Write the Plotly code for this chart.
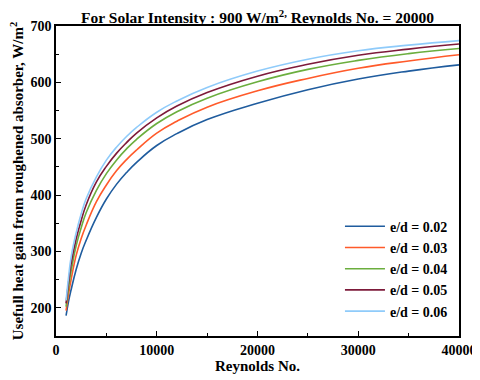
import plotly.graph_objects as go

reynolds = [1000, 1250, 1500, 2000, 2500, 3000, 4000, 5000, 6000, 7000, 8000,
            10000, 12000, 15000, 20000, 25000, 30000, 35000, 40000]

heat_002 = [186, 212, 232, 268, 297, 320, 360, 393, 419, 440, 458,
            488, 509, 534, 563, 587, 606, 620, 631]
heat_003 = [195, 225, 250, 293, 323, 347, 388, 418, 443, 463, 480,
            510, 531, 556, 585, 607, 625, 638, 649]
heat_004 = [202, 236, 265, 310, 342, 369, 408, 438, 462, 482, 499,
            527, 548, 572, 601, 623, 639, 651, 660]
heat_005 = [208, 246, 278, 322, 355, 383, 423, 451, 474, 493, 510,
            537, 558, 582, 611, 632, 648, 659, 668]
heat_006 = [213, 255, 290, 333, 367, 394, 432, 462, 485, 504, 520,
            547, 567, 591, 620, 641, 656, 666, 674]

series = [
    ("e/d = 0.02", heat_002, "#1F5C9E"),
    ("e/d = 0.03", heat_003, "#FF5A2A"),
    ("e/d = 0.04", heat_004, "#6BAE3E"),
    ("e/d = 0.05", heat_005, "#7D1A3A"),
    ("e/d = 0.06", heat_006, "#8FCBFA"),
]

font_family = "Liberation Serif"

fig = go.Figure()
for name, values, colour in series:
    fig.add_trace(
        go.Scatter(
            x=reynolds,
            y=values,
            name=name,
            mode="lines",
            line=dict(color=colour, width=1.6, shape="spline", smoothing=1.3),
        )
    )

axis_style = dict(
    showline=True,
    linecolor="black",
    linewidth=1.5,
    mirror=True,
    ticks="inside",
    ticklen=5,
    tickwidth=1.2,
    tickcolor="black",
    showgrid=False,
    zeroline=False,
    automargin=False,
    tickfont=dict(family=font_family, size=14, color="black", weight="bold"),
)

fig.update_xaxes(
    range=[0, 40000],
    dtick=10000,
    tickformat="d",
    minor=dict(dtick=5000, ticks="inside", ticklen=3, tickcolor="black"),
    title=dict(text="<b>Reynolds No.</b>", font=dict(family=font_family, size=15, color="black"), standoff=4),
    **axis_style,
)
fig.update_yaxes(
    range=[150, 700],
    dtick=100,
    tick0=0,
    minor=dict(dtick=50, ticks="inside", ticklen=3, tickcolor="black"),
    title=dict(
        text="<b>Usefull heat gain from roughened absorber, W/m<sup>2</sup></b>",
        font=dict(family=font_family, size=15, color="black"),
        standoff=10,
    ),
    **axis_style,
)

# the page body adds an 8px margin, so the figure is drawn 8px smaller
fig.update_layout(
    width=472,
    height=372,
    margin=dict(l=48, r=21, t=18, b=44),
    paper_bgcolor="white",
    plot_bgcolor="white",
    title=dict(
        text="<b>For Solar Intensity : 900 W/m<sup>2,</sup> Reynolds No. = 20000</b>",
        font=dict(family=font_family, size=15.5, color="black"),
        xref="paper",
        x=0.5,
        xanchor="center",
        yref="container",
        y=0.973,
        yanchor="middle",
    ),
    legend=dict(
        x=0.985,
        y=0.03,
        xanchor="right",
        yanchor="bottom",
        bgcolor="rgba(0,0,0,0)",
        font=dict(family=font_family, size=14, color="black", weight="bold"),
        itemwidth=40,
    ),
)

fig.write_html("out.html")
